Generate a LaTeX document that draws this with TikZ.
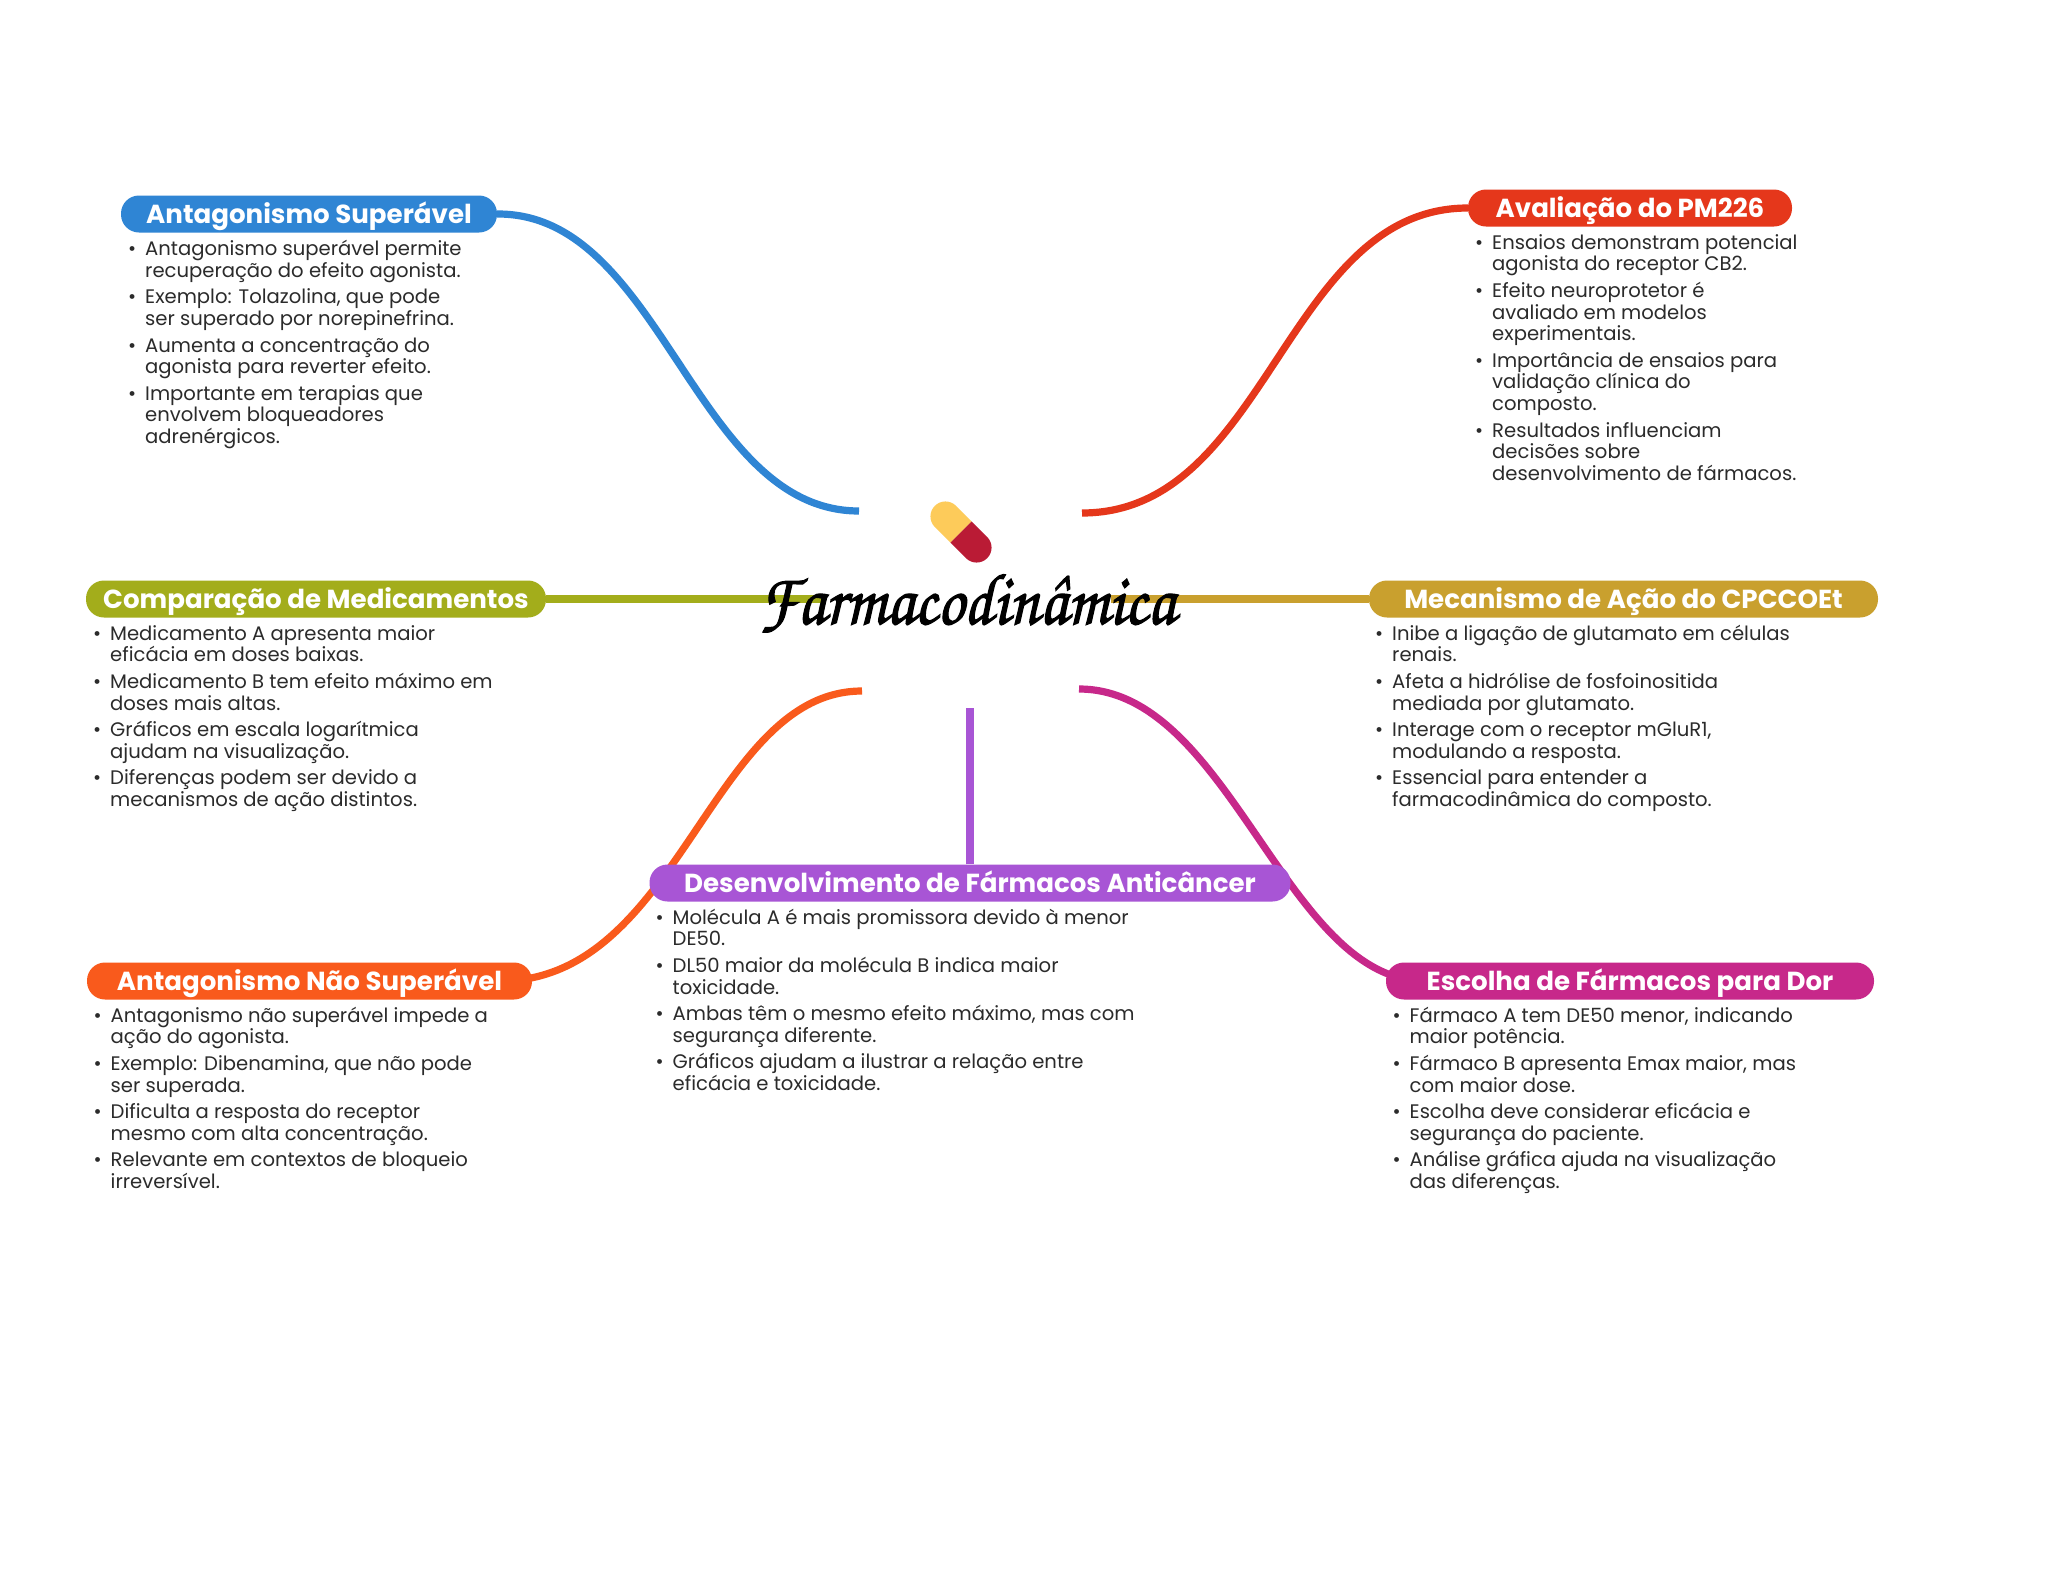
\documentclass[tikz,border=0pt]{standalone}
\usepackage{fontspec}
\setmainfont{Poppins}
\usepackage{xcolor}
\definecolor{cblue}{HTML}{2F85D4}
\definecolor{cred}{HTML}{E5371B}
\definecolor{colive}{HTML}{A3AD1B}
\definecolor{cgold}{HTML}{C9A02E}
\definecolor{cpurple}{HTML}{A855D5}
\definecolor{corange}{HTML}{F95A1C}
\definecolor{cmag}{HTML}{C7288A}
\definecolor{ctext}{HTML}{2B2B2B}
\definecolor{pillY}{HTML}{FDCB5A}
\definecolor{pillR}{HTML}{BA1B35}
\newcommand{\bul}{\rule{0pt}{16pt}\llap{•\hspace{9pt}}}
\newcommand{\gap}{\\[5pt]}
\tikzset{
  head/.style={fill=#1,text=white,rounded corners=18pt,minimum height=37pt,inner sep=0pt,
    text height=22pt,text depth=4pt,
    font=\fontsize{26.1}{26}\selectfont\bfseries},
  slot/.style={minimum height=37pt,inner sep=0pt},
  body/.style={anchor=north west,inner sep=0pt,align=left,text=ctext,
    font=\fontsize{19.6}{21.6}\selectfont},
  branch/.style={line width=7.2pt,draw=#1},
}
\begin{document}
\begin{tikzpicture}[x=1pt,y=-1pt]
\useasboundingbox (0,0) rectangle (2048,1569);
\fill[white] (0,0) rectangle (2048,1569);
% free ends at the hub
\coordinate (eBlue) at (859,511);
\coordinate (eRed) at (1082,513);
\coordinate (eOlive) at (824,599);
\coordinate (eGold) at (1111,599);
\coordinate (eOrange) at (862,691);
\coordinate (eMag) at (1079,689);
\coordinate (ePurple) at (970,708);
% header slots
\path
  node[slot,minimum width=376pt] (sBlue) at (309,214) {}
  node[slot,minimum width=324pt] (sRed) at (1630,208) {}
  node[slot,minimum width=460pt] (sOlive) at (316,599) {}
  node[slot,minimum width=509pt] (sGold) at (1623.5,599) {}
  node[slot,minimum width=641pt] (sPurple) at (970,883) {}
  node[slot,minimum width=445pt] (sOrange) at (309.5,981) {}
  node[slot,minimum width=488pt] (sMag) at (1630,981) {};
% connectors
\draw[branch=cblue] (sBlue.east) .. controls (662,213) and (694,511) .. (eBlue);
\draw[branch=cred] (eRed) .. controls (1268,513) and (1285,208) .. (sRed.west);
\draw[branch=colive] (sOlive.east) -- (eOlive);
\draw[branch=cgold] (sGold.west) -- (eGold);
\draw[branch=cpurple] (sPurple.north) -- (ePurple);
\draw[branch=corange] ([xshift=-32pt]sOrange.east) .. controls (680,981) and (711,691) .. (eOrange);
\draw[branch=cmag] ([xshift=39pt]sMag.west) .. controls (1285,981) and (1230,689) .. (eMag);
% header pills
\node[head=cblue,minimum width=376pt] (hBlue) at (sBlue) {Antagonismo Superável};
\node[head=cred,minimum width=324pt] (hRed) at (sRed) {Avaliação do PM226};
\node[head=colive,minimum width=460pt] (hOlive) at (sOlive) {Comparação de Medicamentos};
\node[head=cgold,minimum width=509pt] (hGold) at (sGold) {Mecanismo de Ação do CPCCOEt};
\node[head=cpurple,minimum width=641pt] (hPurple) at (sPurple) {Desenvolvimento de Fármacos Anticâncer};
\node[head=corange,minimum width=445pt] (hOrange) at (sOrange) {Antagonismo Não Superável};
\node[head=cmag,minimum width=488pt] (hMag) at (sMag) {Escolha de Fármacos para Dor};
% bodies
\node[body] (bBlue) at (145,239.5) {\bul Antagonismo superável permite\\recuperação do efeito agonista.\gap
\bul Exemplo: Tolazolina, que pode\\ser superado por norepinefrina.\gap
\bul Aumenta a concentração do\\agonista para reverter efeito.\gap
\bul Importante em terapias que\\envolvem bloqueadores\\adrenérgicos.};
\node[body] (bRed) at (1492,233) {\bul Ensaios demonstram potencial\\agonista do receptor CB2.\gap
\bul Efeito neuroprotetor é\\avaliado em modelos\\experimentais.\gap
\bul Importância de ensaios para\\validação clínica do\\composto.\gap
\bul Resultados influenciam\\decisões sobre\\desenvolvimento de fármacos.};
\node[body] (bOlive) at (110,624) {\bul Medicamento A apresenta maior\\eficácia em doses baixas.\gap
\bul Medicamento B tem efeito máximo em\\doses mais altas.\gap
\bul Gráficos em escala logarítmica\\ajudam na visualização.\gap
\bul Diferenças podem ser devido a\\mecanismos de ação distintos.};
\node[body] (bGold) at (1392,624) {\bul Inibe a ligação de glutamato em células\\renais.\gap
\bul Afeta a hidrólise de fosfoinositida\\mediada por glutamato.\gap
\bul Interage com o receptor mGluR1,\\modulando a resposta.\gap
\bul Essencial para entender a\\farmacodinâmica do composto.};
\node[body] (bPurple) at (672.5,908) {\bul Molécula A é mais promissora devido à menor\\DE50.\gap
\bul DL50 maior da molécula B indica maior\\toxicidade.\gap
\bul Ambas têm o mesmo efeito máximo, mas com\\segurança diferente.\gap
\bul Gráficos ajudam a ilustrar a relação entre\\eficácia e toxicidade.};
\node[body] (bOrange) at (110.5,1006) {\bul Antagonismo não superável impede a\\ação do agonista.\gap
\bul Exemplo: Dibenamina, que não pode\\ser superada.\gap
\bul Dificulta a resposta do receptor\\mesmo com alta concentração.\gap
\bul Relevante em contextos de bloqueio\\irreversível.};
\node[body] (bMag) at (1409.5,1006) {\bul Fármaco A tem DE50 menor, indicando\\maior potência.\gap
\bul Fármaco B apresenta Emax maior, mas\\com maior dose.\gap
\bul Escolha deve considerar eficácia e\\segurança do paciente.\gap
\bul Análise gráfica ajuda na visualização\\das diferenças.};
% pill icon
\begin{scope}[shift={(961,532)},rotate=-45]
\fill[pillY] (0pt,15pt) -- (-22pt,15pt) arc[start angle=90,end angle=270,radius=15pt] -- (0pt,-15pt) -- cycle;
\fill[pillR] (0pt,15pt) -- (22pt,15pt) arc[start angle=90,end angle=-90,radius=15pt] -- (0pt,-15pt) -- cycle;
\end{scope}
% title
\node[inner sep=0pt,anchor=base,text=black,yscale=1.1] (title) at (967,624)
  {\special{pdf:code q 2 Tr 1.1 w}\fontsize{66.5}{66.5}\usefont{T1}{pzc}{mb}{it}Farmacodinâmica\special{pdf:code Q}};
\end{tikzpicture}
\end{document}
